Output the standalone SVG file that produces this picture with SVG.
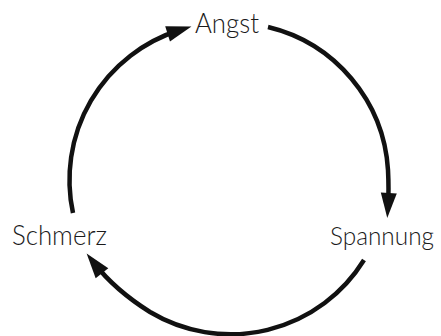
<svg xmlns="http://www.w3.org/2000/svg" width="441" height="336" viewBox="0 0 441 336">
  <style>
    .lbl { font-family: Lato, "Liberation Sans", "DejaVu Sans", sans-serif; font-weight: 300; font-size: 27px; fill: #1a1a1a; }
    .arc { fill: none; stroke: #111; stroke-width: 4.5; stroke-linecap: butt; marker-end: url(#head); }
  </style>
  <defs>
    <marker id="head" markerUnits="userSpaceOnUse" viewBox="-14 -9 27 18" refX="0" refY="0" markerWidth="27" markerHeight="18" orient="auto" overflow="visible">
      <path d="M12,0 L-13,-8 L-13,8 Z" fill="#111"/>
    </marker>
  </defs>
  <rect width="441" height="336" fill="#fff"/>
  <g id="connectors">
    <path class="arc" d="M73,213 A157,157 0 0 1 180,30"/>
    <path class="arc" d="M268,27 A157,157 0 0 1 388,170 Q389,190 388,206"/>
    <path class="arc" d="M364,260 A157,157 0 0 1 150,312 Q115,290 94,263"/>
  </g>
  <g id="angst"><text class="lbl" x="195" y="33" textLength="64" lengthAdjust="spacingAndGlyphs">Angst</text></g>
  <g id="spannung"><text class="lbl" x="330" y="245" style="font-size:25.5px" textLength="104" lengthAdjust="spacingAndGlyphs">Spannung</text></g>
  <g id="schmerz"><text class="lbl" x="12" y="245" textLength="95" lengthAdjust="spacingAndGlyphs">Schmerz</text></g>
</svg>
